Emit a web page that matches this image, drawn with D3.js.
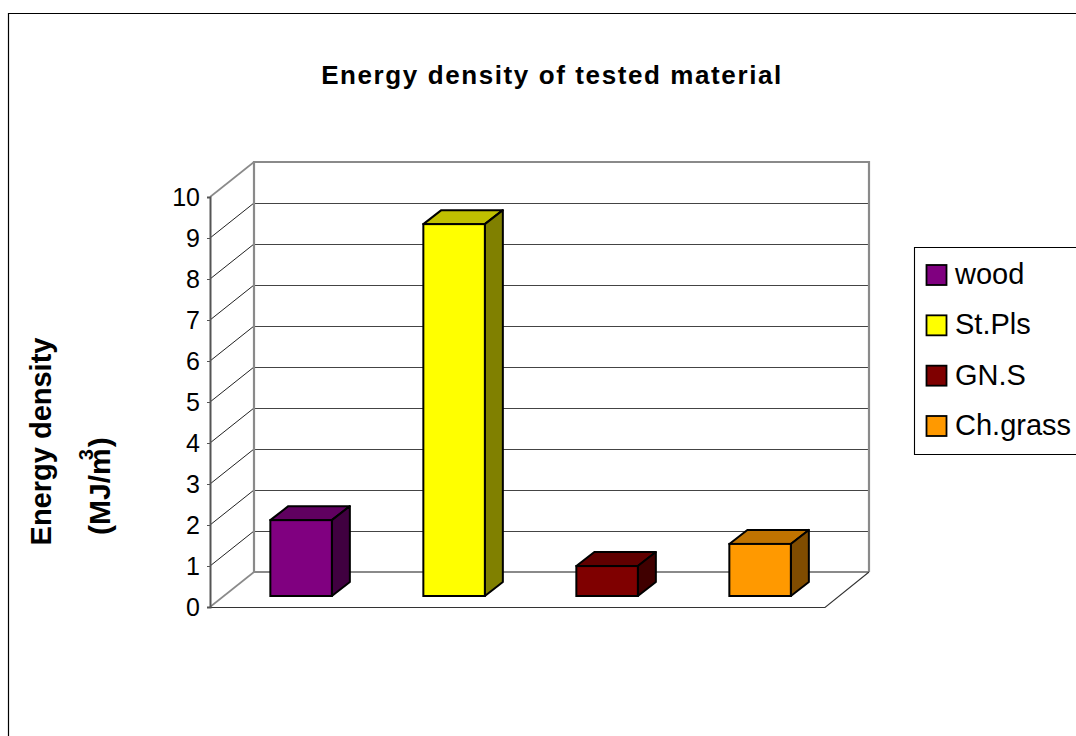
<!DOCTYPE html>
<html><head><meta charset="utf-8">
<script src="https://cdn.jsdelivr.net/npm/d3@7/dist/d3.min.js"></script>
<style>html,body{margin:0;padding:0;background:#fff;overflow:hidden}svg{display:block}text{font-family:"Liberation Sans",Arial,sans-serif;fill:#000}</style>
</head><body><svg id="c" width="1076" height="736"></svg>
<script>
const categories = ["wood","St.Pls","GN.S","Ch.grass"];
const values = [1.85,9.07,0.73,1.27];
const colors = ["#800080","#ffff00","#7f0000","#ff9900"];
const topColors = ["#600060","#c0c000","#600000","#c07300"];
const sideColors = ["#400040","#808000","#400000","#804c00"];
const yTicks = [0,1,2,3,4,5,6,7,8,9,10];
const titleText = "Energy density of tested material";

const svg = d3.select("#c");
const y = d3.scaleLinear().domain([0,10]).range([607,197]);
const x = d3.scaleBand().domain(categories).range([210,822]).paddingInner(0.598).paddingOuter(0.299);
const wallDx = 44, wallDy = -35, barOffX = 14.6, barOffY = -11, depthX = 18, depthY = -14;

svg.append("path").attr("d","M8.5,736V13.5H1076").attr("fill","none").attr("stroke","#000").attr("stroke-width",1.2);

svg.append("text").attr("x",552).attr("y",83.5).attr("text-anchor","middle")
  .attr("font-size",26).attr("font-weight","bold").attr("letter-spacing",1.6).text(titleText);

const right = 825;
const left = x.range()[0];
svg.selectAll(".g").data(yTicks.filter(d=>d>0&&d<10)).join("line")
  .attr("x1",left+wallDx).attr("x2",right+wallDx)
  .attr("y1",d=>y(d)+wallDy+.5).attr("y2",d=>y(d)+wallDy+.5).attr("stroke","#444").attr("stroke-width",1.1);
svg.selectAll(".d").data(yTicks.filter(d=>d>0&&d<10)).join("line")
  .attr("x1",left).attr("x2",left+wallDx)
  .attr("y1",d=>y(d)).attr("y2",d=>y(d)+wallDy).attr("stroke","#222").attr("stroke-width",1);
const gray = "#8a8a8a";
svg.append("line").attr("x1",left).attr("y1",y(10)).attr("x2",left+wallDx).attr("y2",y(10)+wallDy).attr("stroke",gray).attr("stroke-width",1.6);
svg.append("line").attr("x1",left).attr("y1",y(0)).attr("x2",left+wallDx).attr("y2",y(0)+wallDy).attr("stroke",gray).attr("stroke-width",1.6);
svg.append("path").attr("d",`M${right+wallDx},${y(0)+wallDy}V${y(10)+wallDy}H${left+wallDx}V${y(0)+wallDy}H${right+wallDx}`)
  .attr("fill","none").attr("stroke",gray).attr("stroke-width",2.2);
svg.append("path").attr("d",`M${left},${y(0)+.5}H${right}L${right+wallDx},${y(0)+wallDy}`).attr("fill","none").attr("stroke","#333").attr("stroke-width",1.1);
const axis = d3.axisLeft(y).tickValues(yTicks).tickSize(3).tickPadding(7).tickFormat(d3.format("d"));
const ag = svg.append("g").attr("transform",`translate(${left},0)`).call(axis);
ag.select(".domain").attr("stroke","#555").attr("stroke-width",2);
ag.selectAll(".tick line").attr("stroke","#555");
ag.selectAll("text").attr("font-size",25).attr("font-family",'"Liberation Sans",Arial,sans-serif').attr("fill","#000");

const bars = svg.selectAll(".bar").data(categories).join("g");
const bw = x.bandwidth();
const bx = c=>x(c)+barOffX;
const base = y(0)+barOffY;
const bt = (c,i)=>y(values[i])+barOffY;
const sw = 2;
bars.append("path").attr("d",(c,i)=>`M${bx(c)},${bt(c,i)}l${depthX},${depthY}h${bw}l${-depthX},${-depthY}z`)
  .attr("fill",(c,i)=>topColors[i]).attr("stroke","#000").attr("stroke-width",sw).attr("stroke-linejoin","round");
bars.append("path").attr("d",(c,i)=>`M${bx(c)+bw},${bt(c,i)}l${depthX},${depthY}V${base+depthY}l${-depthX},${-depthY}z`)
  .attr("fill",(c,i)=>sideColors[i]).attr("stroke","#000").attr("stroke-width",sw).attr("stroke-linejoin","round");
bars.append("rect").attr("x",bx).attr("y",bt).attr("width",bw).attr("height",(c,i)=>base-bt(c,i))
  .attr("fill",(c,i)=>colors[i]).attr("stroke","#000").attr("stroke-width",sw);

svg.append("text").attr("transform","translate(51,441.5) rotate(-90)").attr("text-anchor","middle")
  .attr("font-size",29).attr("font-weight","bold").text("Energy density");
const t2 = svg.append("text").attr("transform","translate(110,535) rotate(-90)")
  .attr("font-size",30).attr("font-weight","bold");
t2.append("tspan").text("(MJ/m");
t2.append("tspan").attr("dx",-12).attr("dy",-17).attr("font-size",20).text("3");
t2.append("tspan").attr("dx",2).attr("dy",17).text(")");

svg.append("path").attr("d","M1076,247.5H914.5V454.5H1076").attr("fill","#fff").attr("stroke","#000").attr("stroke-width",1.1);
const ly = d3.scalePoint().domain(categories).range([275,426]);
const lg = svg.selectAll(".lg").data(categories).join("g").attr("transform",c=>`translate(0,${ly(c)})`);
lg.append("rect").attr("x",926.5).attr("y",-10).attr("width",20).attr("height",20)
  .attr("fill",(c,i)=>colors[i]).attr("stroke","#000").attr("stroke-width",1.8);
lg.append("text").attr("x",955).attr("y",9).attr("font-size",29).text(c=>c);
</script></body></html>
